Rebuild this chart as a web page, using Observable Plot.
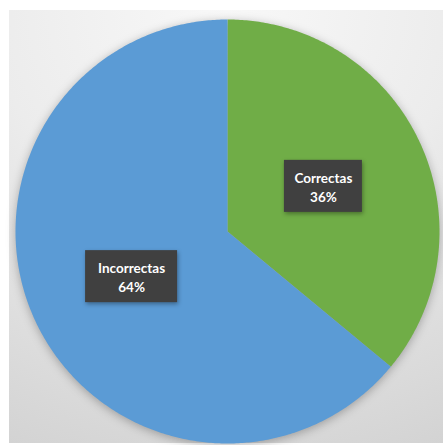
<!DOCTYPE html>
<html>
<head>
<meta charset="utf-8">
<script src="https://cdn.jsdelivr.net/npm/d3@7"></script>
<script src="https://cdn.jsdelivr.net/npm/@observablehq/plot@0.6"></script>
<style>
  html, body { margin: 0; padding: 0; background: #ffffff; }
  #wrap { position: relative; width: 443px; height: 445px; overflow: hidden; }
  #panel { position: absolute; left: 9px; top: 10px; width: 434px; height: 433px;
    background: radial-gradient(ellipse 120% 110% at 50% 0%, #f8f8f8 0%, #ececec 45%, #d3d3d3 100%); }
  #chart { position: absolute; left: 0; top: 0; }
  #chart svg { background: transparent; overflow: visible; }
  g[aria-label="line"] { filter: drop-shadow(0px 2px 5px rgba(0,0,0,0.28)); }
  g[aria-label="rect"] rect { filter: drop-shadow(1px 2px 2px rgba(0,0,0,0.35)); }
</style>
</head>
<body>
<div id="wrap"><div id="panel"></div><div id="chart"></div></div>
<script>
// Data
const categories = ["Correctas", "Incorrectas"];
const percents = [36, 64];
const colors = ["#70AD47", "#5B9BD5"];
const labelText = ["Correctas\n36%", "Incorrectas\n64%"];

// Slice geometry derived from the data with d3.pie (starts at 12 o'clock, clockwise)
const arcs = d3.pie().sort(null).value(d => d.value)(
  categories.map((c, i) => ({category: c, value: percents[i]}))
);
const polys = [];
arcs.forEach(a => {
  const n = Math.max(2, Math.ceil((a.endAngle - a.startAngle) / 0.01));
  polys.push({category: a.data.category, x: 0, y: 0});
  for (let k = 0; k <= n; k++) {
    const t = a.startAngle + (a.endAngle - a.startAngle) * k / n;
    polys.push({category: a.data.category, x: Math.sin(t), y: Math.cos(t)});
  }
  polys.push({category: a.data.category, x: 0, y: 0});
});
const labels = arcs.map((a, i) => {
  const m = (a.startAngle + a.endAngle) / 2;
  return {category: a.data.category, text: labelText[i], x: 0.5 * Math.sin(m), y: 0.5 * Math.cos(m)};
});
const boxW = {"Correctas": 39, "Incorrectas": 46};

const plot = Plot.plot({
  width: 443,
  height: 445,
  marginLeft: 15, marginRight: 4, marginTop: 19, marginBottom: 2,
  x: {domain: [-1, 1], axis: null},
  y: {domain: [-1, 1], axis: null},
  color: {domain: categories, range: colors},
  style: {background: "transparent"},
  marks: [
    Plot.line(polys, {x: "x", y: "y", z: "category", fill: "category", stroke: null, curve: "linear"}),
    ...labels.map(l => Plot.rect([l], {
      x1: "x", x2: "x", y1: "y", y2: "y",
      insetLeft: -boxW[l.category], insetRight: -boxW[l.category],
      insetTop: -26, insetBottom: -26,
      fill: "#404040"
    })),
    Plot.text(labels, {x: "x", y: "y", text: "text", fill: "white",
      fontFamily: "Lato, 'Open Sans', sans-serif", fontWeight: "bold", fontSize: 13.5, lineHeight: 1.4})
  ]
});
document.getElementById("chart").appendChild(plot);
</script>
</body>
</html>
